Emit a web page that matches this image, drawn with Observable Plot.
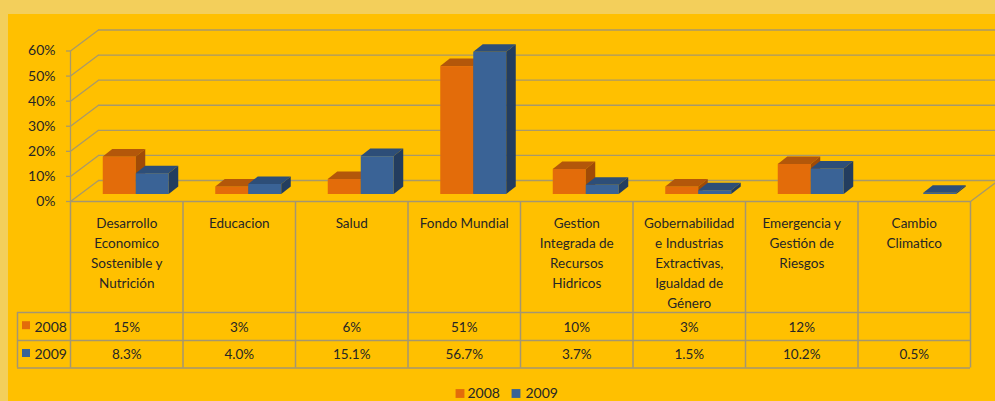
<!DOCTYPE html>
<html><head><meta charset="utf-8">
<script src="https://cdn.jsdelivr.net/npm/d3@7"></script>
<script src="https://cdn.jsdelivr.net/npm/@observablehq/plot@0.6"></script>
<style>
html,body{margin:0;padding:0;overflow:hidden;background:#F3CF5B;}
#wrap{position:relative;width:995px;height:401px;overflow:hidden;}
#bg{position:absolute;left:8px;top:14px;right:0;bottom:0;background:#FFC000;}
#chart{position:absolute;left:0;top:0;}
</style></head><body>
<div id="wrap"><div id="bg"></div><div id="chart"></div></div>
<script>
// ---- data ----
const categories = [
  "Desarrollo\nEconomico\nSostenible y\nNutrición",
  "Educacion",
  "Salud",
  "Fondo Mundial",
  "Gestion\nIntegrada de\nRecursos\nHidricos",
  "Gobernabilidad\ne Industrias\nExtractivas,\nIgualdad de\nGénero",
  "Emergencia y\nGestión de\nRiesgos",
  "Cambio\nClimatico"
];
const seriesNames = ["2008", "2009"];
const values2008 = [15, 3, 6, 51, 10, 3, 12, null];
const values2009 = [8.3, 4.0, 15.1, 56.7, 3.7, 1.5, 10.2, 0.5];
const yTicks = [0, 10, 20, 30, 40, 50, 60];
const tickLabels = ["0%", "10%", "20%", "30%", "40%", "50%", "60%"];

// ---- style / layout ----
const fronts = ["#E36C0A", "#3A6396"];
const tops = ["#B3570A", "#2D4E78"];
const sides = ["#A04B07", "#233D5F"];
const gridColor = "#A8996A";
const tableColor = "#A49670";
const X_PX = 112.5;            // px per category
const Y_PX = 150.5 / 60;       // px per percent
const pxX = px => (px - 70) / X_PX;
const pxY = px => -px / Y_PX;  // px below the front floor edge
const BAR_W = 33 / X_PX;
const DU = 9.5 / X_PX, DV = 7.5 / Y_PX;     // bar depth
const DUW = 28 / X_PX, DVW = 21 / Y_PX;     // wall depth
const LEFT_COL = pxX(17);

const allValues = [values2008, values2009];
const fmts = [d3.format(".0f"), d3.format(".1f")];

const bars = [];
allValues.forEach((vals, si) => vals.forEach((v, i) => {
  if (v == null) return;
  const x1 = i + 0.5 - (si === 0 ? BAR_W : 0);
  bars.push({id: si + "-" + i, si, i, v, x1, x2: x1 + BAR_W});
}));

const barMarks = [];
[0, 1].forEach(si => {
  const b = bars.filter(d => d.si === si);
  const topData = b.flatMap(d => [
    {id: d.id, y: d.v, x1: d.x1, x2: d.x2},
    {id: d.id, y: d.v + DV, x1: d.x1 + DU, x2: d.x2 + DU}
  ]);
  const sideData = b.flatMap(d => [
    {id: d.id, x: d.x2, y1: 0, y2: d.v},
    {id: d.id, x: d.x2 + DU, y1: DV, y2: d.v + DV}
  ]);
  const off = {dx: 9.5, dy: -7};
  barMarks.push(
    Plot.rect(b, {x1: "x1", x2: "x2", y1: 0, y2: "v", fill: fronts[si], ...off}),
    Plot.area(topData, {x1: "x1", x2: "x2", y1: "y", z: "id", fill: tops[si], ...off}),
    Plot.area(sideData, {x1: "x", y1: "y1", y2: "y2", z: "id", fill: sides[si], ...off})
  );
});

const rowY = [pxY(125.7), pxY(153.5)];
const tableMarks = [
  Plot.ruleY([0], {x1: 0, x2: 8, stroke: tableColor, strokeWidth: 1.5}),
  Plot.ruleY([111, 139, 166.5].map(pxY), {x1: LEFT_COL, x2: 8, stroke: tableColor, strokeWidth: 1.5}),
  Plot.ruleX(d3.range(9), {y1: 0, y2: pxY(166.5), stroke: tableColor, strokeWidth: 1.5}),
  Plot.ruleX([LEFT_COL], {y1: pxY(111), y2: pxY(166.5), stroke: tableColor, strokeWidth: 1.5}),
  Plot.text(categories, {x: (d, i) => i + 0.5, y: pxY(12), text: d => d, lineAnchor: "top", lineHeight: 1.48}),
  ...allValues.map((vals, si) =>
    Plot.text(vals.map((v, i) => ({v, i})).filter(d => d.v != null),
      {x: d => d.i + 0.5, y: rowY[si], text: d => fmts[si](d.v) + "%"})),
  ...seriesNames.map((s, si) => Plot.dot([s], {x: LEFT_COL, y: rowY[si], dx: 8.5, dy: -2, symbol: "square", r: 4.5, fill: fronts[si], stroke: null})),
  ...seriesNames.map((s, si) => Plot.text([s], {x: LEFT_COL, y: rowY[si], dx: 17, text: d => d, textAnchor: "start", fontSize: 14}))
];

const legendDot = [pxX(459.5), pxX(515.5)];
const legendTxt = [pxX(467), pxX(525)];
const legendMarks = [
  ...seriesNames.map((s, si) => Plot.dot([s], {x: legendDot[si], y: pxY(192), symbol: "square", r: 5, fill: fronts[si], stroke: null})),
  ...seriesNames.map((s, si) => Plot.text([s], {x: legendTxt[si], y: pxY(192), text: d => d, textAnchor: "start", fontSize: 14}))
];

const chart = Plot.plot({
  width: 995,
  height: 401,
  marginLeft: 70,
  marginRight: 25,
  marginTop: 50.5,
  marginBottom: 200,
  x: {domain: [0, 8], axis: null},
  y: {domain: [0, 60], axis: null},
  style: {background: "transparent", fontFamily: "Lato, 'Open Sans', sans-serif", fontSize: "13.5px", color: "#262626"},
  marks: [
    // back wall gridlines and side diagonals
    Plot.link(yTicks, {x1: 0, x2: DUW, y1: d => d, y2: d => d + DVW, stroke: gridColor, strokeWidth: 1.3}),
    Plot.ruleY(yTicks, {y: d => d + DVW, x1: DUW, x2: 8 + DUW, stroke: gridColor, strokeWidth: 1.3}),
    Plot.link([8], {x1: 8, x2: 8 + DUW, y1: 0, y2: DVW, stroke: gridColor, strokeWidth: 1.3}),
    // front axis
    Plot.ruleX([0], {y1: 0, y2: 60, stroke: gridColor, strokeWidth: 1.3}),
    Plot.ruleY(yTicks, {x1: -4 / X_PX, x2: 0, stroke: gridColor, strokeWidth: 1.3}),
    Plot.text(yTicks, {x: 0, y: d => d, text: (d, i) => tickLabels[i], textAnchor: "end", dx: -15, fontSize: 14}),
    ...barMarks,
    ...tableMarks,
    ...legendMarks
  ]
});
document.getElementById("chart").appendChild(chart);
</script>
</body></html>
